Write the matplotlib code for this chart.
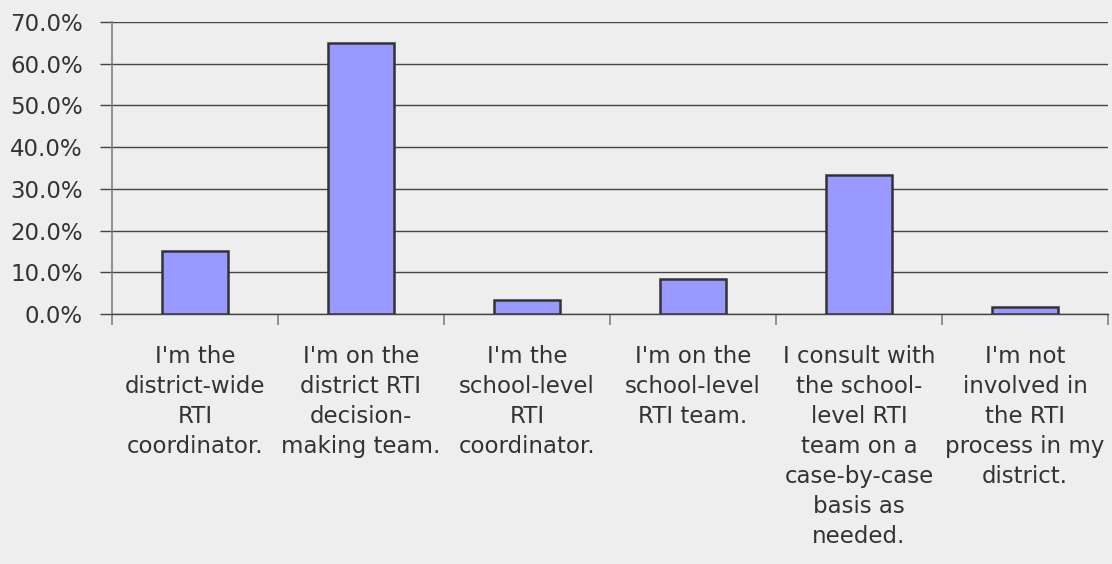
import matplotlib
matplotlib.use("Agg")
import matplotlib.pyplot as plt
import numpy as np
from matplotlib.ticker import PercentFormatter

categories = [
    "I'm the\ndistrict-wide\nRTI\ncoordinator.",
    "I'm on the\ndistrict RTI\ndecision-\nmaking team.",
    "I'm the\nschool-level\nRTI\ncoordinator.",
    "I'm on the\nschool-level\nRTI team.",
    "I consult with\nthe school-\nlevel RTI\nteam on a\ncase-by-case\nbasis as\nneeded.",
    "I'm not\ninvolved in\nthe RTI\nprocess in my\ndistrict.",
]
values = [15.0, 65.0, 3.3, 8.3, 33.3, 1.7]
yticks = [0, 10, 20, 30, 40, 50, 60, 70]

bg = "#EEEEEE"
text_color = "#333333"
fs = 16.5

fig = plt.figure(figsize=(11.12, 5.64), dpi=100, facecolor=bg)
ax = fig.add_axes([112/1112, 1 - 314/564, 996/1112, 292/564])
ax.set_facecolor(bg)

x = np.arange(len(categories))
ax.bar(x, values, width=0.4, color="#9999FF", edgecolor="#333333", linewidth=1.8, zorder=3)

ax.set_xlim(-0.5, len(categories) - 0.5)
ax.set_ylim(0, 70)
ax.set_yticks(yticks)
ax.yaxis.set_major_formatter(PercentFormatter(decimals=1))
ax.grid(axis="y", color="#444444", linewidth=1.0, zorder=1)
ax.set_axisbelow(True)

# boundary ticks (major) without labels, category labels as minor ticks
ax.set_xticks(np.arange(len(categories) + 1) - 0.5)
ax.set_xticklabels([])
ax.set_xticks(x, categories, minor=True)
ax.tick_params(axis="x", which="major", direction="out", length=8, color="#808080", width=1.2)
ax.tick_params(axis="x", which="minor", length=0, pad=22, labelsize=fs, labelcolor=text_color)
ax.tick_params(axis="y", direction="out", length=9, color="#444444", width=1.0,
               labelsize=fs, labelcolor=text_color, pad=12)
for lbl in ax.get_xticklabels(minor=True):
    lbl.set_linespacing(1.39)

for s in ["top", "right"]:
    ax.spines[s].set_visible(False)
ax.spines["left"].set_color("#808080")
ax.spines["left"].set_linewidth(1.2)
ax.spines["bottom"].set_color("#444444")
ax.spines["bottom"].set_linewidth(1.0)

fig.savefig("out.png", dpi=100, facecolor=bg)
